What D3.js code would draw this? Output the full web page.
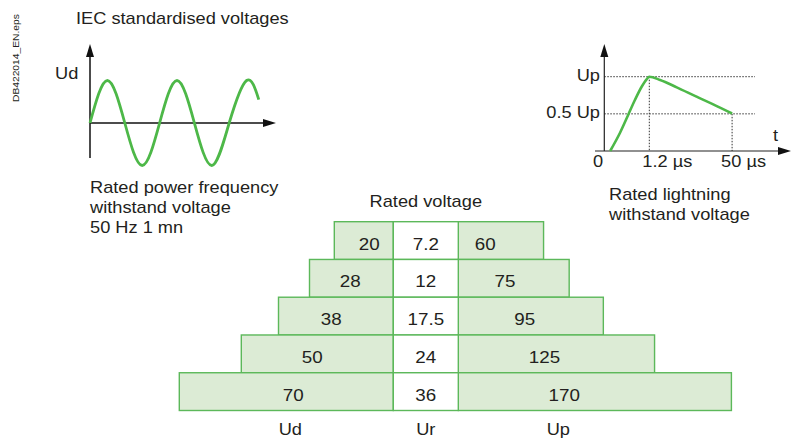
<!DOCTYPE html>
<html>
<head>
<meta charset="utf-8">
<script src="https://cdn.jsdelivr.net/npm/d3@7"></script>
<style>
  html, body { margin: 0; padding: 0; background: #fff; }
  svg { display: block; }
  text { font-family: "Liberation Sans", Arial, Helvetica, sans-serif; fill: #231f20; }
</style>
</head>
<body>
<svg id="chart" width="792" height="441"></svg>
<script>
// ---------------- data ----------------
const rowLabels   = ["7.2", "12", "17.5", "24", "36"];        // Ur (rated voltage, kV)
const udValues    = [20, 28, 38, 50, 70];                      // Ud (power frequency withstand, kV)
const upValues    = [60, 75, 95, 125, 170];                    // Up (lightning impulse withstand, kV)
const columnNames = ["Ud", "Ur", "Up"];

// schematic sine wave (power frequency): key points in quarter periods
const sineQuarter = [0, 1, 2, 3, 4, 5, 6, 7, 8, 9, 9.7];
const sineValue   = [0, 1, 0, -1, 0, 1, 0, -1, 0, 1, 0.55];

// schematic lightning impulse: time units (1 = 1.2 µs marker) and fraction of Up
const impulseT = [0.13, 0.35, 0.53, 0.68, 0.83, 0.94, 1.0, 1.24, 1.61, 2.05, 2.42, 2.84];
const impulseV = [0, 0.246, 0.485, 0.686, 0.865, 0.965, 1.0, 0.956, 0.857, 0.731, 0.628, 0.505];
const impulseTicks = [{u: 0, label: "0"}, {u: 1, label: "1.2 µs"}, {u: 2.84, label: "50 µs"}];
const impulseLevels = [{v: 1, label: "Up"}, {v: 0.5, label: "0.5 Up"}];

// ---------------- helpers ----------------
const svg = d3.select("#chart");
const GREEN = "#4db848";
const SX = 1.14;
function txt(g, x, y, s, anchor, size) {
  return g.append("text")
    .attr("transform", `translate(${x},${y}) scale(${SX},1)`)
    .attr("text-anchor", anchor || "start")
    .style("font-size", (size || 16) + "px")
    .text(s);
}
function arrowUp(g, x, y) {
  g.append("path").attr("d", `M${x},${y} L${x-4},${y+13} L${x+4},${y+13} Z`).attr("fill", "#111");
}
function arrowRight(g, x, y) {
  g.append("path").attr("d", `M${x},${y} L${x-13},${y-4} L${x-13},${y+4} Z`).attr("fill", "#111");
}

// file id
svg.append("text")
  .attr("transform", `translate(19,102) rotate(-90) scale(${SX},1)`)
  .style("font-size", "9px")
  .text("DB422014_EN.eps");

txt(svg, 76, 24, "IEC standardised voltages", "start", 16);

// ---------------- sine panel ----------------
const gs = svg.append("g");
const sx = d3.scaleLinear().domain([0, 9.7]).range([90, 90 + 9.7 * 17.4]);
const sy = d3.scaleLinear().domain([-1, 1]).range([165.5, 80.5]);
const axisY0 = sy(0);
gs.append("line").attr("x1", 90).attr("x2", 90).attr("y1", 52).attr("y2", 158)
  .attr("stroke", "#111").attr("stroke-width", 1.5);
arrowUp(gs, 90, 44);
gs.append("line").attr("x1", 90).attr("x2", 268).attr("y1", axisY0).attr("y2", axisY0)
  .attr("stroke", "#111").attr("stroke-width", 1.5);
arrowRight(gs, 276, axisY0);
gs.append("path")
  .datum(sineQuarter.map((q, i) => [q, sineValue[i]]))
  .attr("d", d3.line().x(d => sx(d[0])).y(d => sy(d[1])).curve(d3.curveNatural))
  .attr("fill", "none").attr("stroke", GREEN).attr("stroke-width", 2.8);
txt(gs, 55, 79, "Ud", "start", 16);
txt(gs, 90, 193, "Rated power frequency", "start", 16);
txt(gs, 90, 213, "withstand voltage", "start", 16);
txt(gs, 90, 233, "50 Hz 1 mn", "start", 16);

// ---------------- impulse panel ----------------
const gi = svg.append("g");
const ix = d3.scaleLinear().domain([0, 1]).range([604.3, 649.3]);
const iy = d3.scaleLinear().domain([0, 1]).range([151, 76.7]);
impulseLevels.forEach(l => {
  gi.append("line").attr("x1", ix(0)).attr("x2", 755).attr("y1", iy(l.v)).attr("y2", iy(l.v))
    .attr("stroke", "#333").attr("stroke-width", 1).attr("stroke-dasharray", "1.5,1.5");
  txt(gi, 600, iy(l.v) + 4, l.label, "end", 16);
});
impulseTicks.filter(t => t.u > 0).forEach((t, i) => {
  const lv = i === 0 ? 1 : 0.5;
  gi.append("line").attr("x1", ix(t.u)).attr("x2", ix(t.u)).attr("y1", iy(lv)).attr("y2", iy(0))
    .attr("stroke", "#333").attr("stroke-width", 1).attr("stroke-dasharray", "1.5,1.5");
});
gi.append("line").attr("x1", ix(0)).attr("x2", ix(0)).attr("y1", 52).attr("y2", iy(0))
  .attr("stroke", "#222").attr("stroke-width", 1.2);
arrowUp(gi, ix(0), 44);
gi.append("line").attr("x1", 595).attr("x2", 782).attr("y1", iy(0)).attr("y2", iy(0))
  .attr("stroke", "#222").attr("stroke-width", 1.2);
arrowRight(gi, 791, iy(0));
gi.append("path")
  .datum(impulseT.map((t, i) => [t, impulseV[i]]))
  .attr("d", d3.line().x(d => ix(d[0])).y(d => iy(d[1])).curve(d3.curveMonotoneX))
  .attr("fill", "none").attr("stroke", GREEN).attr("stroke-width", 2.6);
txt(gi, 773, 141, "t", "start", 16);
txt(gi, 593, 167, impulseTicks[0].label, "start", 16);
txt(gi, ix(impulseTicks[1].u) - 7, 167, impulseTicks[1].label, "start", 16);
txt(gi, ix(impulseTicks[2].u) - 11, 167, impulseTicks[2].label, "start", 16);
txt(gi, 609, 200, "Rated lightning", "start", 16);
txt(gi, 609, 220, "withstand voltage", "start", 16);

// ---------------- pyramid table ----------------
const gt = svg.append("g");
const divL = 393.3, divR = 458.3;
const y = d3.scaleBand().domain(d3.range(rowLabels.length)).range([221.7, 410.5]).padding(0);
const xUd = d3.scaleLinear().domain([0, 70]).range([divL + 3, divL + 3 - 217]);
const xUp = d3.scaleLinear().domain([0, 170]).range([divR - 17.2, divR - 17.2 + 170 * 1.7077]);
const udLabelOff = d3.scaleLinear().domain([0, 4]).range([24, 100]);
const upLabelOff = d3.scaleLinear().domain([0, 4]).range([27, 106]);

txt(gt, (divL + divR) / 2, 207, "Rated voltage", "middle", 16);

const rows = gt.selectAll("g.row").data(rowLabels.map((r, i) => ({i, ur: r, ud: udValues[i], up: upValues[i]})))
  .join("g").attr("class", "row");
rows.each(function(d) {
  const g = d3.select(this);
  const y0 = y(d.i), h = y.bandwidth();
  g.append("rect").attr("x", xUd(d.ud)).attr("y", y0).attr("width", divL - xUd(d.ud)).attr("height", h)
    .attr("fill", "#dcebd5").attr("stroke", "#5cb85a").attr("stroke-width", 1.4);
  g.append("rect").attr("x", divR).attr("y", y0).attr("width", xUp(d.up) - divR).attr("height", h)
    .attr("fill", "#dcebd5").attr("stroke", "#5cb85a").attr("stroke-width", 1.4);
  g.append("rect").attr("x", divL).attr("y", y0).attr("width", divR - divL).attr("height", h)
    .attr("fill", "#fff").attr("stroke", "#5cb85a").attr("stroke-width", 1.4);
  const by = y0 + h / 2 + 9;
  txt(g, divL - udLabelOff(d.i), by, String(d.ud), "middle", 16.5);
  txt(g, (divL + divR) / 2, by, d.ur, "middle", 16.5);
  txt(g, divR + upLabelOff(d.i), by, String(d.up), "middle", 16.5);
});

txt(gt, divL - udLabelOff(4) - 3, 435, columnNames[0], "middle", 16);
txt(gt, (divL + divR) / 2, 435, columnNames[1], "middle", 16);
txt(gt, divR + upLabelOff(4) - 6, 435, columnNames[2], "middle", 16);
</script>
</body>
</html>
